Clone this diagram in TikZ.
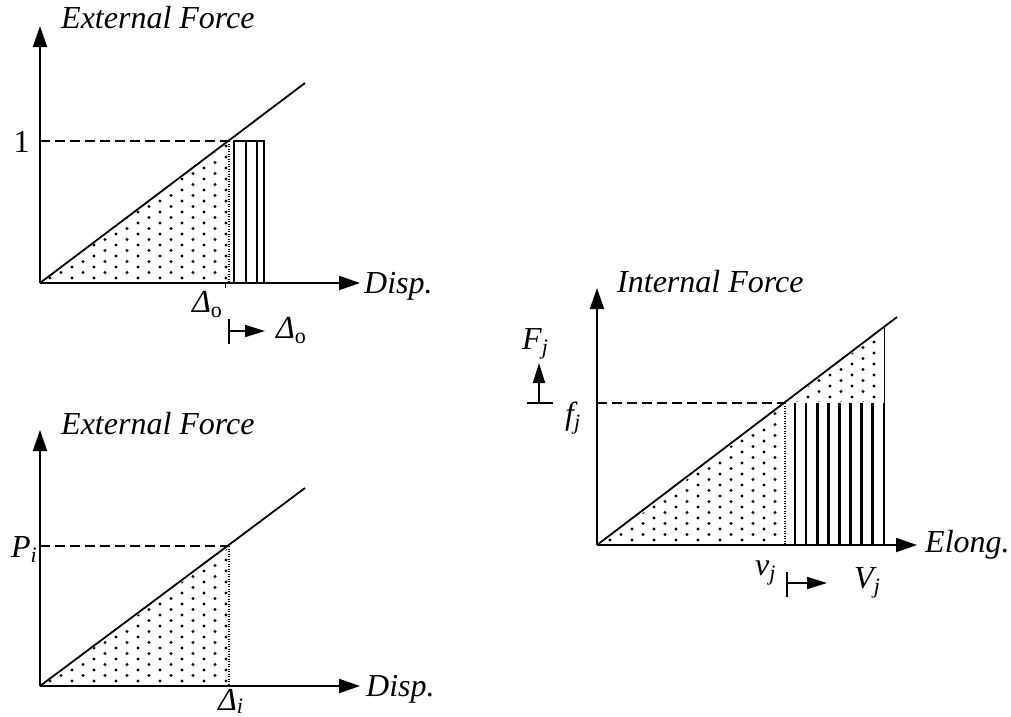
\documentclass[tikz,border=0pt]{standalone}
\usepackage{fontspec}
\setmainfont{Liberation Serif}
\usetikzlibrary{arrows.meta}
\newcommand\dotfield[2]{%
  \foreach \k in {0,...,14}{\foreach \m in {0,...,22}{%
    \fill ({#1+22*\k},{#2-11*\m}) circle[radius=1.6pt];
    \fill ({#1+11+22*\k},{#2-5.5-11*\m}) circle[radius=1.6pt];}}}
\newcommand\lowsub[2][5.5pt]{\raisebox{-#1}{\fontsize{22}{26}\selectfont #2}}
\begin{document}
\begin{tikzpicture}[x=1pt,y=-1pt,
  axisarr/.style={line width=2pt,-{Triangle[length=21pt,width=14pt]}},
  smallarr/.style={line width=1.8pt,-{Triangle[length=20pt,width=12pt]}},
  curve/.style={line width=1.8pt},
  dashln/.style={line width=1.5pt,dash pattern=on 10pt off 5pt},
  dotln/.style={line width=1.1pt,dash pattern=on 1pt off 1.5pt},
  hatchln/.style={line width=2.6pt},
  boxln/.style={line width=1.8pt},
  barln/.style={line width=1.6pt},
  lbl/.style={inner sep=0pt,font=\fontsize{32}{38}\selectfont\itshape},
  num/.style={inner sep=0pt,font=\fontsize{32}{38}\selectfont}
]
\useasboundingbox (0,0) rectangle (1011,716);

%% ---------- top-left graph ----------
\coordinate (o1) at (40,283);
\coordinate (y1) at (40,26);
\coordinate (x1) at (360,283);
\coordinate (e1) at (305,83);
\coordinate (p1) at (229,141);
\coordinate (q1) at (229,283);
\coordinate (h1) at (40,141);
\begin{scope}
  \clip (43,282) -- (227.5,282) -- (227.5,143.5) -- cycle;
  \dotfield{50}{278}
\end{scope}
\draw[dotln] (p1) -- (q1);
\draw[boxln] (234,283) rectangle (264,141);
\draw[boxln] (246,141) -- (246,283);
\draw[boxln] (257,141) -- (257,283);
\draw[line width=1pt] (225,283) -- (225,288);
\draw[dashln] (h1) -- (p1);
\draw[curve] (o1) -- (e1);
\draw[axisarr] (o1) -- (y1);
\draw[axisarr] (o1) -- (x1);
\node[lbl,anchor=base west] (t1) at (61,28) {External Force};
\node[num,anchor=base] (one) at (21.5,152) {1};
\node[lbl,anchor=base west] (d1) at (364,293) {Disp.};
\node[lbl,anchor=base west] (del1) at (192,312) {Δ\lowsub{\upshape o}};
\coordinate (b1) at (229,331);
\coordinate (b1e) at (265,331);
\draw[barln] (229,319) -- (229,344);
\draw[smallarr] (b1) -- (b1e);
\node[lbl,anchor=base west] (del2) at (276,338) {Δ\lowsub{\upshape o}};

%% ---------- bottom-left graph ----------
\coordinate (o2) at (40,686);
\coordinate (y2) at (40,430);
\coordinate (x2) at (360,686);
\coordinate (e2) at (305,488);
\coordinate (p2) at (229,546);
\coordinate (q2) at (229,686);
\coordinate (h2) at (40,546);
\begin{scope}
  \clip (43,685) -- (227.5,685) -- (227.5,548.5) -- cycle;
  \dotfield{50}{681}
\end{scope}
\draw[dotln] (p2) -- (q2);
\draw[dashln] (h2) -- (p2);
\draw[curve] (o2) -- (e2);
\draw[axisarr] (o2) -- (y2);
\draw[axisarr] (o2) -- (x2);
\node[lbl,anchor=base west] (t2) at (61,434) {External Force};
\node[lbl,anchor=base west] (pi) at (11,557) {P\lowsub{i}};
\node[lbl,anchor=base west] (deli) at (218,710) {Δ\lowsub[3pt]{i}};
\node[lbl,anchor=base west] (d2) at (366,696) {Disp.};

%% ---------- right graph ----------
\coordinate (o3) at (597,545);
\coordinate (y3) at (597,288);
\coordinate (x3) at (917,545);
\coordinate (e3) at (897,317);
\coordinate (p3) at (785,403);
\coordinate (q3) at (785,545);
\coordinate (h3) at (597,403);
\coordinate (r3) at (884,403);
\coordinate (s3) at (884,326.6);
\begin{scope}
  \clip (603,543.5) -- (783.5,543.5) -- (783.5,401.5) -- (882.5,401.5) -- (882.5,330) -- cycle;
  \dotfield{610}{540}
\end{scope}
\draw[dotln] (p3) -- (q3);
\foreach \k in {0,...,8}{\draw[hatchln] ({795+11.1*\k},403) -- ({795+11.1*\k},545);}
\draw[line width=1pt] (r3) -- (s3);
\draw[dashln] (h3) -- (p3);
\draw[curve] (o3) -- (e3);
\draw[axisarr] (o3) -- (y3);
\draw[axisarr] (o3) -- (x3);
\node[lbl,anchor=base west] (t3) at (617,292) {Internal Force};
\node[lbl,anchor=base west] (el) at (925,552) {Elong.};
\node[lbl,anchor=base west] (Fj) at (522,349) {F\lowsub{j}};
\node[lbl,anchor=base west] (fj) at (565,424) {f\lowsub{j}};
\coordinate (fa) at (539,403);
\coordinate (fb) at (539,363);
\draw[barln] (527,403) -- (553,403);
\draw[smallarr] (fa) -- (fb);
\node[lbl,anchor=base west] (vj) at (755,575) {v\lowsub{j}};
\coordinate (va) at (787,583);
\coordinate (vb) at (827,583);
\draw[barln] (787,572) -- (787,597);
\draw[smallarr] (va) -- (vb);
\node[lbl,anchor=base west] (Vj) at (854,588) {V\lowsub{j}};
\end{tikzpicture}
\end{document}
